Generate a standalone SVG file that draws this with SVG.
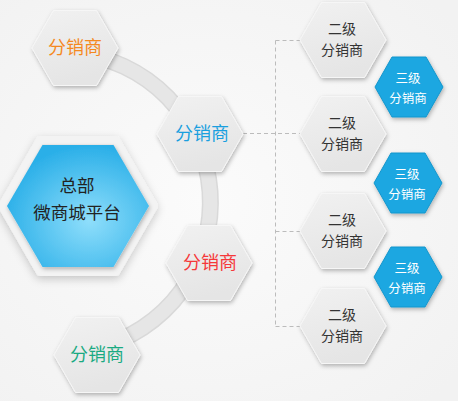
<svg xmlns="http://www.w3.org/2000/svg" xmlns:xlink="http://www.w3.org/1999/xlink" width="458" height="401" viewBox="0 0 458 401">
<defs>
<radialGradient id="bg" cx="0.45" cy="0.5" r="0.7">
<stop offset="0" stop-color="#fbfbfb"/>
<stop offset="1" stop-color="#f2f2f2"/>
</radialGradient>
<linearGradient id="gHex" x1="0" y1="0" x2="0.3" y2="1">
<stop offset="0" stop-color="#f1f1f1"/>
<stop offset="1" stop-color="#e5e5e5"/>
</linearGradient>
<linearGradient id="gFrame" x1="0" y1="0" x2="0" y2="1">
<stop offset="0" stop-color="#ececec"/>
<stop offset="1" stop-color="#fbfbfb"/>
</linearGradient>
<radialGradient id="gBlue" cx="0.58" cy="0.62" r="0.62">
<stop offset="0" stop-color="#8fdefb"/>
<stop offset="1" stop-color="#2aafe8"/>
</radialGradient>
<filter id="sh" x="-30%" y="-30%" width="160%" height="160%">
<feDropShadow dx="1" dy="2" stdDeviation="2" flood-color="#000" flood-opacity="0.28"/>
</filter>
<filter id="shBig" x="-30%" y="-30%" width="160%" height="160%">
<feDropShadow dx="0" dy="3" stdDeviation="4" flood-color="#000" flood-opacity="0.2"/>
</filter>
<polygon id="hexM" points="-43,0 -21.5,-37.5 21.5,-37.5 43,0 21.5,37.5 -21.5,37.5"/>
<polygon id="hexS" points="-34,0 -17,-30 17,-30 34,0 17,30 -17,30"/>
</defs>
<style>
.hm{fill:url(#gHex);stroke:#f6f6f6;stroke-width:1;filter:url(#sh)}
.hs{fill:#1ba7e1;stroke:#1596cc;stroke-width:1;filter:url(#sh)}
.t{font-family:"Noto Sans CJK SC","Noto Sans",sans-serif;text-anchor:middle}
.tm{font-size:18px}
.t2{font-size:14px;fill:#333}
.t3{font-size:12.5px;fill:#fff}
.dash{fill:none;stroke:#bcbcbc;stroke-width:1;stroke-dasharray:4 3}
</style>
<rect width="458" height="401" fill="url(#bg)"/>
<g id="connectors">
<path d="M75,53 A150,150 0 0 1 96,348" fill="none" stroke="#d9d9d9" stroke-width="17"/>
<path d="M75,53 A150,150 0 0 1 96,348" fill="none" stroke="#e6e6e6" stroke-width="14"/>
<path class="dash" d="M243,133.5 H300 M275.5,40.5 V326.5 M275.5,40.5 H300 M275.5,231.5 H300 M275.5,326.5 H300"/>
</g>
<g id="hq">
<polygon points="-76,0 -38,-66 38,-66 76,0 38,66 -38,66" transform="translate(78,206)" fill="url(#gFrame)" stroke="#f3f3f3" stroke-width="8" stroke-linejoin="round" filter="url(#shBig)"/>
<polygon points="-71,0 -35.5,-61 35.5,-61 71,0 35.5,61 -35.5,61" transform="translate(78,206)" fill="url(#gBlue)" filter="url(#sh)"/>
<text class="t" x="77" y="191.5" font-size="17.5" fill="#222">总部</text>
<text class="t" x="77" y="218.5" font-size="17.5" fill="#222">微商城平台</text>
</g>
<g id="d1"><use href="#hexM" class="hm" x="75" y="48"/><text class="t tm" x="75" y="54" fill="#f5891f">分销商</text></g>
<g id="d2"><use href="#hexM" class="hm" x="200" y="134"/><text class="t tm" x="202" y="140" fill="#1a9fdf">分销商</text></g>
<g id="d3"><use href="#hexM" class="hm" x="209" y="263"/><text class="t tm" x="210" y="269" fill="#f5383a">分销商</text></g>
<g id="d4"><use href="#hexM" class="hm" x="97" y="355"/><text class="t tm" x="97" y="361" fill="#1aaa82">分销商</text></g>
<g id="l2a"><use href="#hexM" class="hm" x="343" y="40"/><text class="t t2" x="342" y="34">二级</text><text class="t t2" x="342" y="55">分销商</text></g>
<g id="l2b"><use href="#hexM" class="hm" x="343" y="134"/><text class="t t2" x="342" y="128">二级</text><text class="t t2" x="342" y="149">分销商</text></g>
<g id="l2c"><use href="#hexM" class="hm" x="343" y="231"/><text class="t t2" x="342" y="225">二级</text><text class="t t2" x="342" y="246">分销商</text></g>
<g id="l2d"><use href="#hexM" class="hm" x="343" y="326"/><text class="t t2" x="342" y="320">二级</text><text class="t t2" x="342" y="341">分销商</text></g>
<g id="l3a"><use href="#hexS" class="hs" x="409" y="87"/><text class="t t3" x="408" y="82.5">三级</text><text class="t t3" x="408" y="102.5">分销商</text></g>
<g id="l3b"><use href="#hexS" class="hs" x="408" y="183"/><text class="t t3" x="407" y="178.5">三级</text><text class="t t3" x="407" y="198.5">分销商</text></g>
<g id="l3c"><use href="#hexS" class="hs" x="408" y="277"/><text class="t t3" x="407" y="272.5">三级</text><text class="t t3" x="407" y="292.5">分销商</text></g>
</svg>
